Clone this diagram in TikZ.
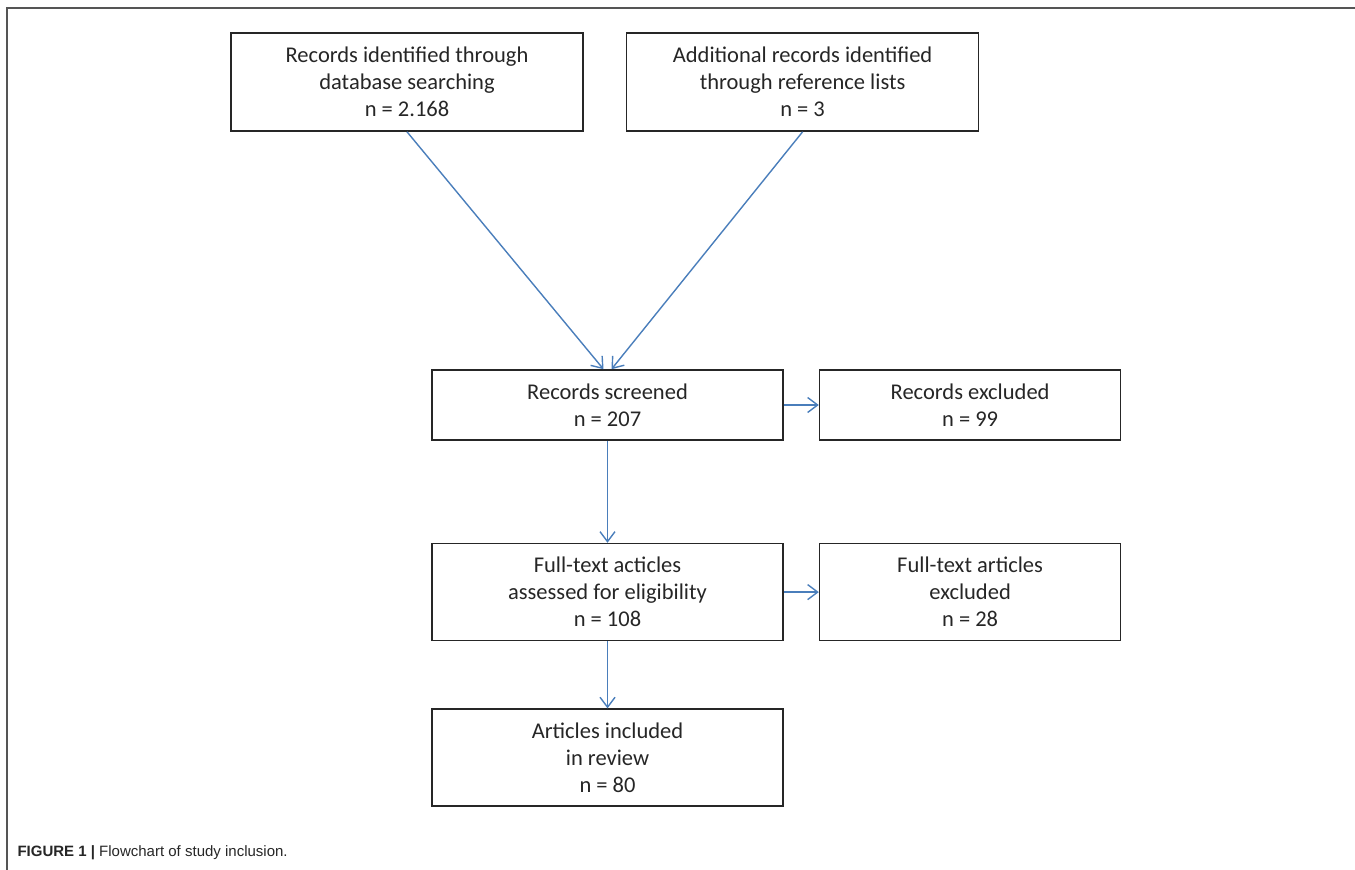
\documentclass[tikz,border=0pt]{standalone}
\usepackage{fontspec}
\setmainfont{Carlito}
\newfontfamily\capfont{Liberation Sans}
\usetikzlibrary{positioning,arrows.meta}
\definecolor{arrowblue}{HTML}{4A7EBB}
\definecolor{framegray}{HTML}{555555}
\begin{document}
\begin{tikzpicture}[x=1pt, y=-1pt,
  main/.style = {draw=black!85, line width=1.6pt, align=center, inner sep=0pt,
    font=\fontsize{22.5}{27}\selectfont, text=black!85},
  link/.style = {draw=arrowblue, line width=1.4pt, -{Straight Barb[length=10pt,width=15pt]}}]
\useasboundingbox (0,0) rectangle (1355,870);
% frame of the figure
\draw[framegray, line width=2pt] (7,870) -- (7,8) -- (1355,8);
\node[main, minimum width=352pt, minimum height=98pt] (1) at (407,82) {Records identified through\\database searching\\n = 2.168};
\node[main, minimum width=352pt, minimum height=98pt] (2) [right=42pt of 1] {Additional records identified\\through reference lists\\n = 3};
\node[main, minimum width=351pt, minimum height=70pt] (3) at (607.5,405) {Records screened\\n = 207};
\node[main, minimum width=301pt, minimum height=70pt] (4) [right=35pt of 3] {Records excluded\\n = 99};
\node[main, minimum width=351pt, minimum height=97pt] (5) [below=102pt of 3] {Full-text acticles\\assessed for eligibility\\n = 108};
\node[main, minimum width=301pt, minimum height=97pt] (6) [right=35pt of 5] {Full-text articles\\excluded\\n = 28};
\node[main, minimum width=351pt, minimum height=97pt] (7) [below=67pt of 5] {Articles included\\in review\\n = 80};
\node[anchor=west, font=\capfont\fontsize{15}{18}\selectfont, text=black!85] (cap) at (14,853) {\textbf{FIGURE 1 |} Flowchart of study inclusion.};
% connectors
\draw[link] (1.south) -- ([xshift=-4pt]3.north);
\draw[link] (2.south) -- ([xshift=4pt]3.north);
\draw[link] (3) -- (4);
\draw[link] (3) -- (5);
\draw[link] (5) -- (6);
\draw[link] (5) -- (7);
\end{tikzpicture}
\end{document}
